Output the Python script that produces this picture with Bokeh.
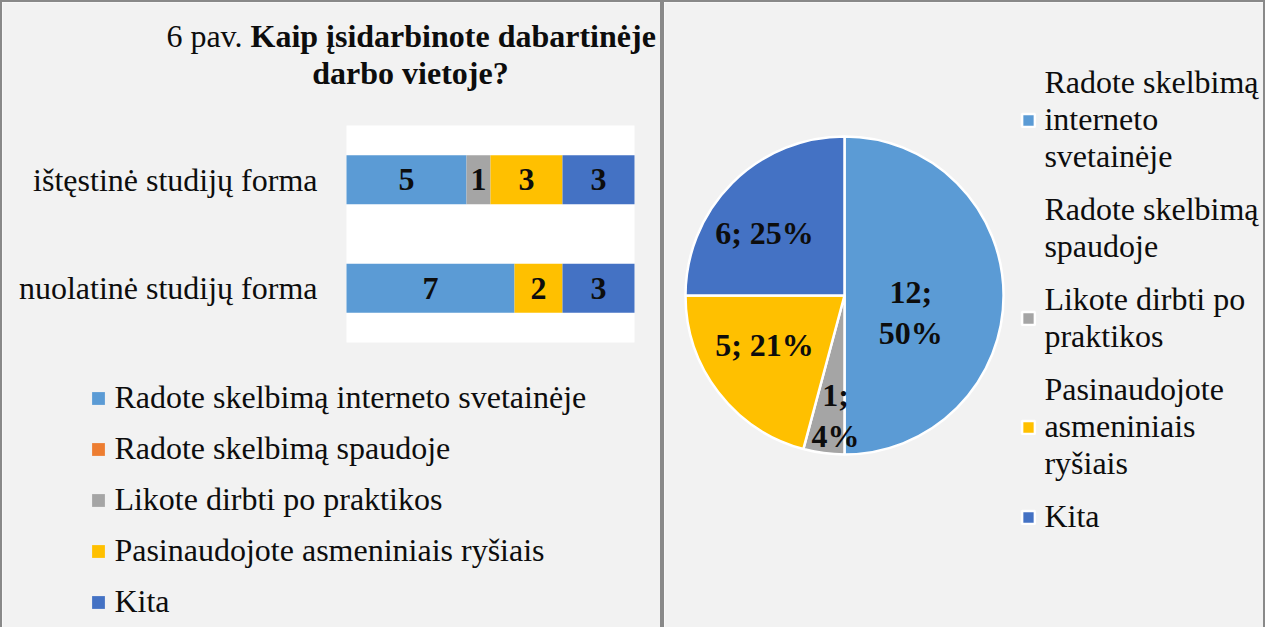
import numpy as np
from bokeh.plotting import figure
from bokeh.models import (Range1d, ColumnDataSource, Legend, LegendItem, Label, BoxAnnotation)
from bokeh.layouts import row
from bokeh.embed import file_html
from bokeh.resources import INLINE
from bokeh.core.properties import value

# ---------------- data ----------------
categories = ["ištęstinė studijų forma", "nuolatinė studijų forma"]
series = [
    "Radote skelbimą interneto svetainėje",
    "Radote skelbimą spaudoje",
    "Likote dirbti po praktikos",
    "Pasinaudojote asmeniniais ryšiais",
    "Kita",
]
istestine = [5, 0, 1, 3, 3]
nuolatine = [7, 0, 0, 2, 3]
x_axis_max = 12
pie_values = [12, 0, 1, 5, 6]
pie_legend_labels = [
    "Radote skelbimą\ninterneto\nsvetainėje",
    "Radote skelbimą\nspaudoje",
    "Likote dirbti po\npraktikos",
    "Pasinaudojote\nasmeniniais\nryšiais",
    "Kita",
]
title_prefix = "6 pav. "
title_bold_1 = "Kaip įsidarbinote dabartinėje"
title_bold_2 = "darbo vietoje?"

# ---------------- style ----------------
colors = ["#5B9BD5", "#ED7D31", "#A5A5A5", "#FFC000", "#4472C4"]
FONT = "Liberation Serif"
TXT = "#0d0d0d"
BG = "#f2f2f2"
BORDER = "2px solid #898989"
FS = "32px"
H = 627
W1, W2 = 662, 603

# ---------------- left: stacked bars ----------------
PX_X = 24.0       # pixels per unit on the value axis
PX_Y = 108.5      # pixels per category band
X0 = 344          # canvas x of value 0
Y_TOP = 123       # canvas y of top of plot area
p1 = figure(width=W1, height=H,
            x_range=Range1d(-X0 / PX_X, (W1 - X0) / PX_X),
            y_range=Range1d(1.5 - (H - Y_TOP) / PX_Y, 1.5 + Y_TOP / PX_Y),
            output_backend="svg", toolbar_location=None, min_border=0,
            x_axis_type=None, y_axis_type=None,
            background_fill_color=BG, border_fill_color=BG, outline_line_color=None)
p1.styles = {"border-top": BORDER, "border-left": BORDER, "border-right": BORDER}

ypos = list(range(len(categories)))[::-1]   # top category first
p1.add_layout(BoxAnnotation(left=0, right=x_axis_max, bottom=-0.5, top=len(categories) - 0.5,
                            fill_color="white", fill_alpha=1, line_color=None, level="underlay"))

cols = [f"s{i}" for i in range(len(series))]
data = {"y": ypos}
for i, c in enumerate(cols):
    data[c] = [istestine[i], nuolatine[i]]
src = ColumnDataSource(data)
bars = p1.hbar_stack(cols, y="y", height=0.45, color=colors, line_color=None, source=src)

lx, ly, lt = [], [], []
for yy, vals in zip(ypos, [istestine, nuolatine]):
    cum = 0
    for v in vals:
        if v > 0:
            lx.append(cum + v / 2)
            ly.append(yy)
            lt.append(str(v))
        cum += v
p1.text(x=lx, y=ly, text=lt, text_align="center", text_baseline="middle",
        text_font=value(FONT), text_font_style="bold", text_font_size=FS, text_color=TXT)

# category labels (left of the plot area)
p1.text(x=[-29 / PX_X] * len(categories), y=ypos, text=categories, text_align="right",
        text_baseline="middle", text_font=value(FONT), text_font_size=FS, text_color=TXT)

leg1 = Legend(items=[LegendItem(label=s, renderers=[r]) for s, r in zip(series, bars)],
              location=(88.4, 9), orientation="vertical",
              glyph_width=16, glyph_height=16, label_standoff=8,
              label_height=37, spacing=14, padding=0, margin=0,
              border_line_color=None, background_fill_alpha=0,
              label_text_font=FONT, label_text_font_size=FS, label_text_color=TXT)
p1.add_layout(leg1, "center")

p1.add_layout(Label(x=248, y=594, x_units="screen", y_units="screen", text=title_prefix,
                    text_align="right", text_baseline="alphabetic", text_font=FONT,
                    text_font_size=FS, text_color=TXT))
p1.add_layout(Label(x=248, y=594, x_units="screen", y_units="screen", text=title_bold_1,
                    text_align="left", text_baseline="alphabetic", text_font=FONT,
                    text_font_style="bold", text_font_size=FS, text_color=TXT))
p1.add_layout(Label(x=408, y=557, x_units="screen", y_units="screen", text=title_bold_2,
                    text_align="center", text_baseline="alphabetic", text_font=FONT,
                    text_font_style="bold", text_font_size=FS, text_color=TXT))

# ---------------- right: pie ----------------
R = 159.0
CX, CY = 180, 293   # canvas position of pie centre
p2 = figure(width=W2, height=H, x_range=Range1d(-CX / R, (W2 - CX) / R),
            y_range=Range1d(-(H - CY) / R, CY / R), output_backend="svg",
            toolbar_location=None, min_border=0, x_axis_type=None, y_axis_type=None,
            background_fill_color=BG, border_fill_color=BG, outline_line_color=None)
p2.styles = {"border-top": BORDER, "border-left": BORDER, "border-right": BORDER}

total = sum(pie_values)
cum = np.cumsum([0] + pie_values)
start = np.pi / 2 - 2 * np.pi * cum[:-1] / total
end = np.pi / 2 - 2 * np.pi * cum[1:] / total
wedges = []
for i in range(len(series)):
    keep = pie_values[i] > 0
    s = ColumnDataSource(dict(start=[start[i]] if keep else [], end=[end[i]] if keep else []))
    r = p2.wedge(x=0, y=0, radius=1, start_angle="start", end_angle="end", direction="clock",
                 fill_color=colors[i], line_color="white", line_width=2.5, source=s)
    wedges.append(r)

# data labels (value; percent)
label_r = [0.43, 0.0, 0.757, 0.59, 0.64]
label_ang = [-14.4, 0.0, 265.7, 211.5, 141.8]
label_wrap = [True, False, True, False, False]
tx, ty, tt = [], [], []
for v, r, a, w in zip(pie_values, label_r, label_ang, label_wrap):
    if v == 0:
        continue
    pct = round(100 * v / total)
    tt.append(f"{v};\n{pct}%" if w else f"{v}; {pct}%")
    tx.append(r * np.cos(np.radians(a)))
    ty.append(r * np.sin(np.radians(a)))
p2.text(x=tx, y=ty, text=tt, text_align="center", text_baseline="middle",
        text_font=value(FONT), text_font_style="bold", text_font_size=FS, text_color=TXT,
        text_line_height=1.15)

leg2 = Legend(items=[LegendItem(label=pie_legend_labels[i], renderers=[wedges[i]])
                     for i in range(len(series))],
              location=(356.4, 94), orientation="vertical",
              glyph_width=16, glyph_height=16, label_standoff=8,
              label_height=28, spacing=16, padding=0, margin=0,
              border_line_color=None, background_fill_alpha=0,
              label_text_font=FONT, label_text_font_size=FS,
              label_text_color=TXT, label_text_line_height=0.88)
p2.add_layout(leg2, "center")

layout = row(p1, p2, spacing=0)
open("out.html", "w").write(file_html(layout, INLINE))
